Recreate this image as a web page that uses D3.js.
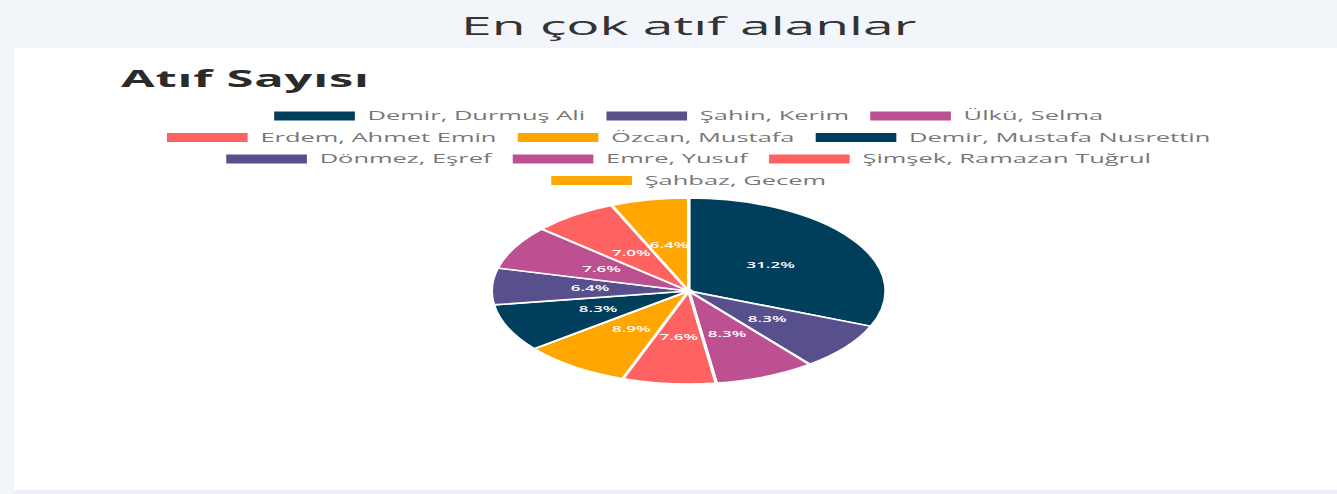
<!DOCTYPE html>
<html>
<head>
<meta charset="utf-8">
<script src="https://cdn.jsdelivr.net/npm/d3@7"></script>
<style>
  html, body { margin: 0; padding: 0; background: #f2f5f9; overflow: hidden; }
  svg { display: block; }
</style>
</head>
<body>
<svg id="chart"></svg>
<script>
// Citation counts per author
const authors = [
  'Demir, Durmuş Ali', 'Şahin, Kerim', 'Ülkü, Selma',
  'Erdem, Ahmet Emin', 'Özcan, Mustafa', 'Demir, Mustafa Nusrettin',
  'Dönmez, Eşref', 'Emre, Yusuf', 'Şimşek, Ramazan Tuğrul',
  'Şahbaz, Gecem'
];
const citations = [49, 13, 13, 12, 14, 13, 10, 12, 11, 10];
const palette = ['#003f5c', '#58508d', '#bc5090', '#ff6361', '#ffa600'];
const chartTitle = 'En çok atıf alanlar';
const seriesLabel = 'Atıf Sayısı';

// Drawing is done in a narrow coordinate space and stretched to the window width
const W = 1337, H = 494, VW = 630;
const sx = W / VW;
const FONT = "'Open Sans', 'Noto Sans', sans-serif";

const svg = d3.select('#chart')
  .attr('width', W).attr('height', H)
  .attr('viewBox', `0 0 ${VW} ${H}`)
  .attr('preserveAspectRatio', 'none');

// page background + card
svg.append('rect').attr('x', 0).attr('y', 0).attr('width', VW).attr('height', H).attr('fill', '#f2f5f9');
svg.append('rect')
  .attr('x', 14 / sx).attr('y', 48)
  .attr('width', VW - 14 / sx).attr('height', 442)
  .attr('fill', '#ffffff');
svg.append('rect')
  .attr('x', 14 / sx).attr('y', 490)
  .attr('width', VW - 14 / sx).attr('height', 4)
  .attr('fill', '#eceff3');

const cx = 324.5;

// header title
svg.append('text')
  .attr('x', cx).attr('y', 35)
  .attr('text-anchor', 'middle')
  .attr('font-family', FONT).attr('font-size', 26)
  .attr('fill', '#333')
  .text(chartTitle);

// dataset label
svg.append('text')
  .attr('x', 57).attr('y', 87)
  .attr('font-family', FONT).attr('font-size', 23).attr('font-weight', 700)
  .attr('letter-spacing', 0.4)
  .attr('fill', '#2b2b2b')
  .text(seriesLabel);

const color = d3.scaleOrdinal().domain(authors).range(palette);

// ---- legend (centered, wrapped rows) ----
const boxW = 38, boxH = 9, fontSize = 12, itemPad = 10, rowH = 21.5, maxRowW = 515;
const legend = svg.append('g');
const measure = legend.append('text').attr('font-family', FONT).attr('font-size', fontSize);
const items = authors.map(name => {
  measure.text(name);
  const tw = measure.node().getComputedTextLength();
  return { name, w: boxW + fontSize / 2 + tw };
});
measure.remove();

const rows = [];
let cur = [], curW = 0;
items.forEach(it => {
  const add = cur.length ? itemPad + it.w : it.w;
  if (cur.length && curW + add > maxRowW) { rows.push({ items: cur, w: curW }); cur = [it]; curW = it.w; }
  else { cur.push(it); curW += add; }
});
if (cur.length) rows.push({ items: cur, w: curW });

rows.forEach((row, ri) => {
  let x = cx - row.w / 2;
  const y = 116 + ri * rowH;
  row.items.forEach(it => {
    const g = legend.append('g');
    g.append('rect')
      .attr('x', x).attr('y', y - boxH / 2)
      .attr('width', boxW).attr('height', boxH)
      .attr('fill', color(it.name));
    g.append('text')
      .attr('x', x + boxW + fontSize / 2).attr('y', y)
      .attr('dy', '0.35em')
      .attr('font-family', FONT).attr('font-size', fontSize)
      .attr('fill', '#777')
      .text(it.name);
    x += it.w + itemPad;
  });
});

// ---- pie ----
const R = 93;
const cy = 291;
const total = d3.sum(citations);
const pie = d3.pie().sort(null).value(d => d)(citations);
const arc = d3.arc().innerRadius(0).outerRadius(R);
const pct = d3.format('.1%');

const pg = svg.append('g').attr('transform', `translate(${cx},${cy})`);
pg.selectAll('path.slice')
  .data(pie)
  .join('path')
  .attr('class', 'slice')
  .attr('d', arc)
  .attr('fill', (d, i) => color(authors[i]))
  .attr('stroke', '#fff')
  .attr('stroke-width', 1.6);

pg.selectAll('text.val')
  .data(pie)
  .join('text')
  .attr('class', 'val')
  .attr('transform', d => `translate(${arc.centroid(d)})`)
  .attr('text-anchor', 'middle').attr('dy', '0.35em')
  .attr('font-family', FONT).attr('font-size', 8).attr('font-weight', 600)
  .attr('fill', '#fff')
  .text(d => pct(d.data / total));
</script>
</body>
</html>
